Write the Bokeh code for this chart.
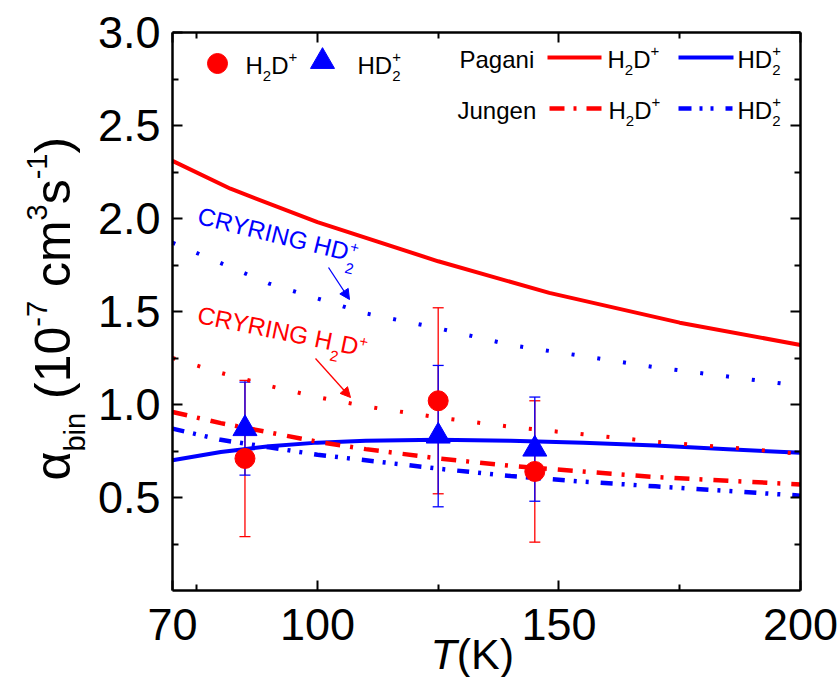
import math
from bokeh.plotting import figure
from bokeh.models import (Range1d, FixedTicker, LinearAxis, Label, Arrow, NormalHead,
                          Whisker, TeeHead, ColumnDataSource, PrintfTickFormatter)
from bokeh.embed import file_html
from bokeh.resources import INLINE

# ---------------- data ----------------
T_pag_h2d = [70, 82, 100, 125, 148, 175, 200]
pag_h2d = [2.31, 2.16, 1.98, 1.77, 1.60, 1.44, 1.32]

T_grid = [70, 80, 90, 100, 110, 125, 140, 155, 170, 185, 200]
pag_hd2 = [0.70, 0.745, 0.775, 0.795, 0.805, 0.81, 0.805, 0.795, 0.78, 0.76, 0.74]
jun_h2d = [0.96, 0.90, 0.85, 0.80, 0.76, 0.71, 0.67, 0.64, 0.61, 0.59, 0.57]
jun_hd2 = [0.87, 0.81, 0.77, 0.73, 0.70, 0.655, 0.615, 0.585, 0.56, 0.535, 0.51]
cry_h2d = [1.25, 1.17, 1.10, 1.04, 0.99, 0.93, 0.88, 0.84, 0.80, 0.77, 0.735]
cry_hd2 = [1.87, 1.76, 1.65, 1.57, 1.49, 1.41, 1.32, 1.26, 1.20, 1.15, 1.10]

T_exp = [85, 125, 145]
h2d_exp = [0.71, 1.02, 0.64]
h2d_err = [0.42, 0.50, 0.38]
hd2_exp = [0.87, 0.83, 0.76]
hd2_err = [0.25, 0.38, 0.28]

x_lim = (70, 200)
y_lim = (0.0, 3.0)
x_ticks = [70, 100, 150, 200]
x_minor = [75, 125, 175]
y_ticks = [0.5, 1.0, 1.5, 2.0, 2.5, 3.0]
y_minor = [0.25, 0.75, 1.25, 1.75, 2.25, 2.75]

RED = "#FF0000"
BLUE = "#0000FF"
FONT = "Liberation Sans"

# ---------------- layout ----------------
W, H = 840, 677
FL, FR, FT, FB = 172, 800, 32, 590          # where the axes box sits on the page
X0, X1 = x_lim
Y0, Y1 = y_lim
BASE_FIX = 0.30   # Label "alphabetic" anchor correction (fraction of font size)


def dx(px):
    return X0 + (px - FL) * (X1 - X0) / (FR - FL)


def dy(py):
    return Y0 + (FB - py) * (Y1 - Y0) / (FB - FT)


# the plotting frame covers the whole page; axes are pinned at the box edges
p = figure(width=W, height=H, output_backend="svg", toolbar_location=None,
           x_range=Range1d(dx(0), dx(W)), y_range=Range1d(dy(H), dy(0)),
           min_border=0, min_border_left=0, min_border_right=0,
           min_border_top=0, min_border_bottom=0,
           background_fill_color="white", border_fill_color="white")
p.outline_line_color = None
p.xgrid.visible = False
p.ygrid.visible = False


def style_axis(ax, labels=True):
    ax.axis_line_width = 2.5
    ax.axis_line_color = "black"
    ax.major_tick_in = 10
    ax.major_tick_out = 0
    ax.minor_tick_in = 6
    ax.minor_tick_out = 0
    ax.major_tick_line_width = 2
    ax.minor_tick_line_width = 2
    ax.major_tick_line_color = "black"
    ax.minor_tick_line_color = "black"
    ax.major_label_text_font = FONT
    ax.major_label_text_font_size = "45px"
    ax.major_label_text_color = "black" if labels else None
    ax.major_label_standoff = 12


xb = p.xaxis[0]
xb.ticker = FixedTicker(ticks=x_ticks, minor_ticks=x_minor)
xb.fixed_location = Y0
xb.bounds = x_lim
style_axis(xb)
xb.major_label_standoff = 18

yl = p.yaxis[0]
yl.ticker = FixedTicker(ticks=y_ticks, minor_ticks=y_minor)
yl.formatter = PrintfTickFormatter(format="%.1f")
yl.fixed_location = X0
yl.bounds = y_lim
style_axis(yl)

xt = LinearAxis(ticker=FixedTicker(ticks=x_ticks, minor_ticks=x_minor),
                fixed_location=Y1, bounds=x_lim)
style_axis(xt, labels=False)
p.add_layout(xt, "above")
yr = LinearAxis(ticker=FixedTicker(ticks=y_ticks, minor_ticks=y_minor),
                fixed_location=X1, bounds=y_lim)
style_axis(yr, labels=False)
p.add_layout(yr, "right")

# ---------------- series ----------------
p.line(T_pag_h2d, pag_h2d, line_color=RED, line_width=4)
p.line(T_grid, pag_hd2, line_color=BLUE, line_width=4)
p.line(T_grid, jun_h2d, line_color=RED, line_width=4.5, line_dash="15 10 3 11")
p.line(T_grid, jun_hd2, line_color=BLUE, line_width=4.5, line_dash="12 9 3 9 3 12")
p.line(T_grid, cry_h2d, line_color=RED, line_width=4, line_dash="3 23")
p.line(T_grid, cry_hd2, line_color=BLUE, line_width=4, line_dash="3 23")

p.scatter(T_exp, h2d_exp, marker="circle", size=20, fill_color=RED, line_color=RED)
p.scatter(T_exp, hd2_exp, marker="triangle", size=24, fill_color=BLUE, line_color=BLUE)

src_r = ColumnDataSource(dict(x=T_exp,
                              lo=[v - e for v, e in zip(h2d_exp, h2d_err)],
                              hi=[v + e for v, e in zip(h2d_exp, h2d_err)]))
src_b = ColumnDataSource(dict(x=T_exp,
                              lo=[v - e for v, e in zip(hd2_exp, hd2_err)],
                              hi=[v + e for v, e in zip(hd2_exp, hd2_err)]))
for src, col in ((src_r, RED), (src_b, BLUE)):
    p.add_layout(Whisker(source=src, base="x", lower="lo", upper="hi",
                         line_color=col, line_width=1.3,
                         lower_head=TeeHead(size=11, line_color=col, line_width=1.3),
                         upper_head=TeeHead(size=11, line_color=col, line_width=1.3)))

# ---------------- rich text helper ----------------
WID = {' ': 278, '(': 333, ')': 333, '+': 584, '-': 333, '.': 278,
       'A': 667, 'C': 722, 'D': 722, 'G': 778, 'H': 722, 'I': 278, 'J': 500,
       'K': 667, 'N': 722, 'P': 667, 'R': 722, 'T': 611, 'Y': 667,
       'a': 556, 'b': 556, 'c': 500, 'e': 556, 'g': 556, 'i': 222, 'm': 833,
       'n': 556, 's': 500, 'u': 556, 'α': 578}
for d in "0123456789":
    WID[d] = 556


def tw(s, fs):
    return sum(WID.get(c, 556) for c in s) * fs / 1000.0


def rich(segs, px, py, size, small, sub_dy, sup_dy, color, angle_deg=0.0):
    th = math.radians(angle_deg)
    ux, uy = math.cos(th), -math.sin(th)
    nx, ny = math.sin(th), math.cos(th)
    along = 0.0
    last_sub = 0.0
    for text, kind in segs:
        lead = len(text) - len(text.lstrip(" "))
        style = "normal"
        if kind == "n":
            fs, dd, a = size, 0.0, along
        elif kind == "i":
            fs, dd, a, style = size, 0.0, along, "italic"
        elif kind == "b":
            fs, dd, a = small, sub_dy, along
            last_sub = along
        elif kind == "p":
            fs, dd, a = small, -sup_dy, along
        else:  # "P": superscript stacked over the previous subscript
            fs, dd, a = small, -sup_dy, last_sub
        a0 = a + tw(" " * lead, fs)
        d0 = dd - BASE_FIX * fs
        sx = px + a0 * ux + d0 * nx
        sy = py + a0 * uy + d0 * ny
        p.add_layout(Label(x=dx(sx), y=dy(sy), text=text.strip(" "), angle=th,
                           text_font=FONT, text_font_size=f"{fs}px",
                           text_font_style=style, text_color=color,
                           text_align="left", text_baseline="alphabetic"))
        adv = tw(text, fs)
        if kind == "P":
            along = max(along, last_sub + adv)
        else:
            along = a + adv


H2D = [("H", "n"), ("2", "b"), ("D", "n"), ("+", "p")]
HD2 = [("HD", "n"), ("2", "b"), ("+", "P")]

# axis titles
rich([("α", "n"), ("bin", "b"), (" (10", "n"), ("-7", "p"), (" cm", "n"),
      ("3", "p"), ("s", "n"), ("-1", "p"), (")", "n")],
     67, 480, 50, 29, 16, 22, "black", angle_deg=90)
rich([("T", "i"), ("(K)", "n")], 430, 666, 43, 26, 0, 0, "black")

# legend (markers)
p.scatter([dx(217)], [dy(63)], marker="circle", size=20, fill_color=RED, line_color=RED)
p.scatter([dx(322)], [dy(61)], marker="triangle", size=24, fill_color=BLUE, line_color=BLUE)
rich(H2D, 245, 71.7, 24, 15, 8.7, 11, "black")
rich(HD2, 357, 71.7, 24, 15, 8.7, 11, "black")

# legend (lines)
rich([("Pagani", "n")], 459, 65.7, 24, 15, 0, 0, "black")
rich([("Jungen", "n")], 457, 116.7, 24, 15, 0, 0, "black")
p.line([dx(547), dx(601)], [dy(57), dy(57)], line_color=RED, line_width=4)
p.line([dx(678), dx(733)], [dy(57), dy(57)], line_color=BLUE, line_width=4)
p.line([dx(549), dx(603)], [dy(108), dy(108)], line_color=RED, line_width=4.5,
       line_dash="15 9 3 10")
p.line([dx(678), dx(732)], [dy(108), dy(108)], line_color=BLUE, line_width=4.5,
       line_dash="13 8 3 8 3 12")
rich(H2D, 607, 65.7, 24, 15, 8.7, 11, "black")
rich(HD2, 737, 65.7, 24, 15, 8.7, 11, "black")
rich(H2D, 608, 116.7, 24, 15, 8.7, 11, "black")
rich(HD2, 737, 116.7, 24, 15, 8.7, 11, "black")

# CRYRING annotations
rich([("CRYRING HD", "n"), ("2", "b"), ("+", "P")], 196, 222, 24.5, 15, 13, 9, BLUE,
     angle_deg=-13.8)
rich([("CRYRING H", "n"), ("2", "b"), ("D", "n"), ("+", "p")], 196, 321, 24.5, 15, 11, 9,
     RED, angle_deg=-11.5)
p.add_layout(Arrow(end=NormalHead(size=10, fill_color=BLUE, line_color=BLUE),
                   x_start=dx(328), y_start=dy(267), x_end=dx(349), y_end=dy(299),
                   line_color=BLUE, line_width=1.3))
p.add_layout(Arrow(end=NormalHead(size=10, fill_color=RED, line_color=RED),
                   x_start=dx(315), y_start=dy(358), x_end=dx(350), y_end=dy(397),
                   line_color=RED, line_width=1.3))

open("out.html", "w").write(file_html(p, INLINE))
